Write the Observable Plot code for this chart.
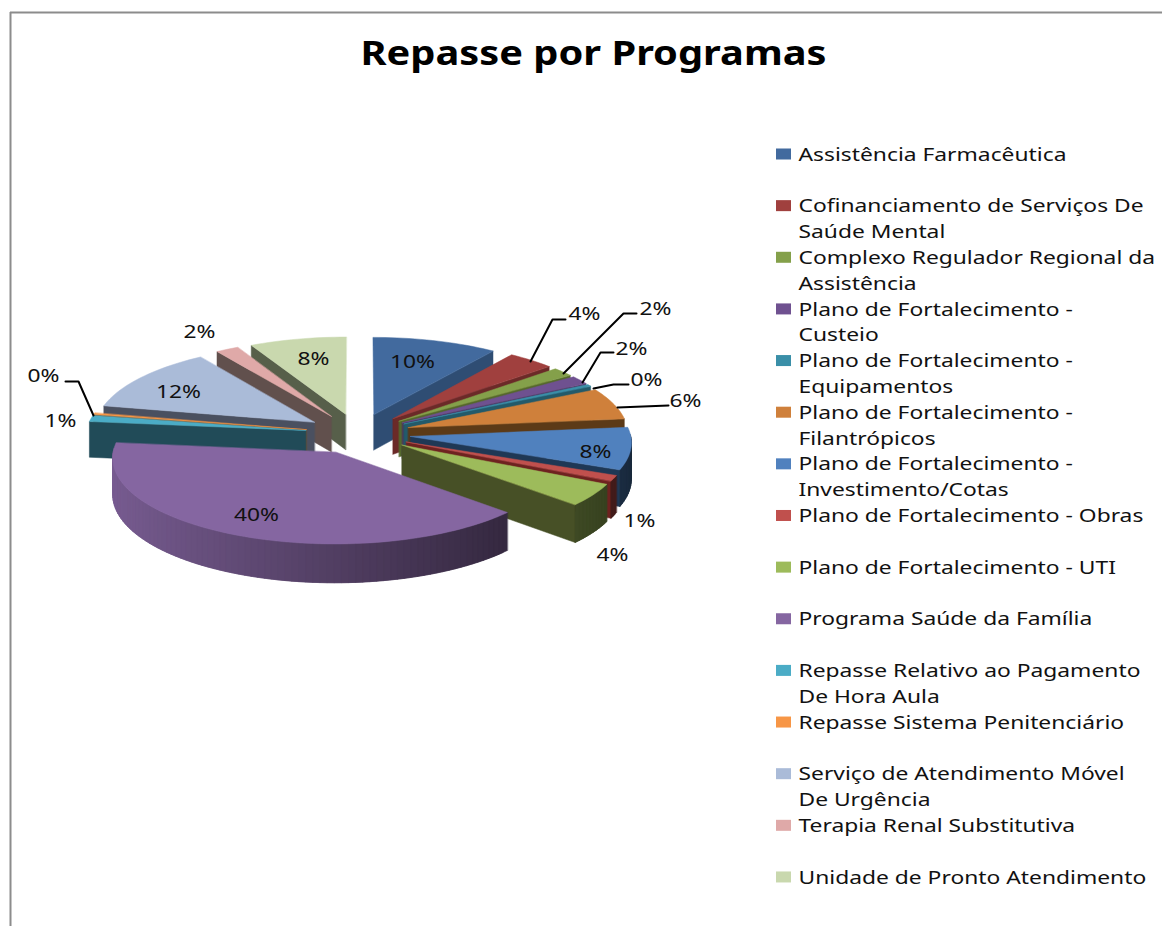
<!DOCTYPE html>
<html lang="pt">
<head>
<meta charset="utf-8">
<title>Repasse por Programas</title>
<style>html,body{margin:0;padding:0;background:#fff;overflow:hidden}svg{display:block}</style>
<script src="https://cdn.jsdelivr.net/npm/d3@7"></script>
<script src="https://cdn.jsdelivr.net/npm/@observablehq/plot@0.6"></script>
</head>
<body>
<div id="chart"></div>
<script>
const titulo = "Repasse por Programas";
const programas = [
  "Assistência Farmacêutica",
  "Cofinanciamento de Serviços De\nSaúde Mental",
  "Complexo Regulador Regional da\nAssistência",
  "Plano de Fortalecimento -\nCusteio",
  "Plano de Fortalecimento -\nEquipamentos",
  "Plano de Fortalecimento -\nFilantrópicos",
  "Plano de Fortalecimento -\nInvestimento/Cotas",
  "Plano de Fortalecimento - Obras",
  "Plano de Fortalecimento - UTI",
  "Programa Saúde da Família",
  "Repasse Relativo ao Pagamento\nDe Hora Aula",
  "Repasse Sistema Penitenciário",
  "Serviço de Atendimento Móvel\nDe Urgência",
  "Terapia Renal Substitutiva",
  "Unidade de Pronto Atendimento"
];
const percentuais = [9.8, 3.7, 1.7, 1.6, 0.4, 6.0, 8, 1.1, 4.3, 39.9, 1.2, 0.3, 12.3, 1.8, 7.6];

const coresTopo = ["#426A9E","#A0403E","#84A04A","#6F5190","#3A8FA8","#CF803B","#5081BE","#C0504D","#9DBB5B","#8566A1","#4BACC6","#F79646","#AABBD8","#DFA9A8","#C9D8AE"];
const coresParede = ["#2F4D73","#6B2A28","#55682C","#4A3560","#235A6A","#5C3A17","#1F3855","#6E2220","#475026","#5A4570","#214B58","#8A5020","#4A5060","#61504D","#575F4A"];

// posição de cada rótulo percentual, nas unidades das escalas x e y
const rotuloX = [412,584,655,631,646,685,595,639,612,256,60,43,178,199,313];
const rotuloY = [361,313,308,348,379,400,451,520,554,514,420,375,391,331,358];
// linhas de chamada
const chamadas = [
  [[530,361],[552,319],[565,319]],
  [[563,373],[623,313],[636,313]],
  [[582,382],[600,352],[613,352]],
  [[593,388],[613,384],[628,384]],
  [[617,407],[668,405]],
  [[93,415],[78,381],[65,381]]
];

// modelo da pizza 3D em perspectiva
const CX = 357.5, CY = 433, A = 220, B = 84, P = 0.06, ALT = 36, EXPL = 0.24;
const projeta = (u, v, h = 0) => {
  const w = 1 + P * v;
  return [CX + A * u / w, CY - B * v / w + h * ALT / w];
};

const pie = d3.pie().sort(null).value(d => d)(percentuais);
const fatias = pie.map((p, i) => {
  const a0 = p.startAngle, a1 = p.endAngle, m = (a0 + a1) / 2;
  const eu = EXPL * Math.sin(m), ev = EXPL * Math.cos(m);
  const n = Math.max(2, Math.ceil((a1 - a0) / 0.03));
  const arco = d3.range(n + 1).map(k => a0 + (a1 - a0) * k / n);
  return {i, a0, a1, m, eu, ev, arco};
}).sort((a, b) => Math.cos(b.m) - Math.cos(a.m));

const poligonos = [];
let id = 0;
const poligono = (cor, pts) => {
  id++;
  pts.forEach(([x, y]) => poligonos.push({id, cor, x, y}));
};
for (const f of fatias) {
  const {i, a0, a1, eu, ev, arco} = f;
  const pt = (a, h) => projeta(eu + Math.sin(a), ev + Math.cos(a), h);
  const ap = h => projeta(eu, ev, h);
  if (Math.sin(a0) < -0.02) poligono(coresParede[i], [ap(0), pt(a0, 0), pt(a0, 1), ap(1)]);
  if (Math.sin(a1) > 0.02) poligono(coresParede[i], [ap(0), pt(a1, 0), pt(a1, 1), ap(1)]);
  for (let k = 0; k < arco.length - 1; k++) {
    const c = (arco[k] + arco[k + 1]) / 2;
    if (Math.cos(c) < 0.03) {
      const t = (Math.sin(c) + 1) / 2;
      const cor = d3.interpolateRgb(coresTopo[i], "#000")(0.1 + 0.58 * t);
      // cada faixa avança até a amostra seguinte e é coberta pela próxima: sem frestas
      const fim = arco[Math.min(k + 2, arco.length - 1)];
      poligono(cor, [pt(arco[k], 0), pt(fim, 0), pt(fim, 1), pt(arco[k], 1)]);
    }
  }
  poligono(coresTopo[i], [ap(0), ...arco.map(a => pt(a, 0))]);
}

const rotulos = percentuais.map((v, i) => ({t: d3.format(".0f")(v) + "%", x: rotuloX[i], y: rotuloY[i]}));
const linhasChamada = chamadas.flatMap((c, j) => c.map(([x, y]) => ({j, x, y})));

// legenda em grade de linhas
const LEG_Y0 = 154, LEG_PASSO = 25.82;
const legendaTexto = [], legendaCaixas = [];
programas.forEach((nome, i) => {
  const linha0 = i * 2;
  nome.split("\n").forEach((t, k) => legendaTexto.push({t, y: LEG_Y0 + (linha0 + k) * LEG_PASSO}));
  const y = LEG_Y0 + linha0 * LEG_PASSO;
  legendaCaixas.push({cor: coresTopo[i], y1: y - 5.5, y2: y + 5.5});
});

const fonte = "Noto Sans";
const chart = Plot.plot({
  width: 1162, height: 926, margin: 0,
  x: {domain: [0, 1162], range: [0, 1162], axis: null},
  y: {domain: [0, 926], range: [0, 926], axis: null},
  color: {type: "identity"},
  style: {background: "#fff", fontFamily: fonte},
  marks: [
    Plot.ruleY([12], {x1: 10, x2: 1162, stroke: "#8c8c8c", strokeWidth: 2}),
    Plot.ruleX([10], {y1: 12, y2: 926, stroke: "#8c8c8c", strokeWidth: 2}),
    Plot.text([titulo], {x: () => 593, y: () => 54, text: d => d, fontSize: 34, fontWeight: "bold", fill: "#000", textAnchor: "middle", fontFamily: fonte, className: "titulo"}),
    Plot.line(poligonos, {x: "x", y: "y", z: "id", fill: "cor", stroke: "cor", strokeWidth: 0.5, curve: "linear-closed"}),
    Plot.line(linhasChamada, {x: "x", y: "y", z: "j", stroke: "#000", strokeWidth: 2, fill: "none"}),
    Plot.text(rotulos, {x: "x", y: "y", text: "t", fontSize: 19, fill: "#111", textAnchor: "middle", fontFamily: fonte, className: "rotulo"}),
    Plot.rect(legendaCaixas, {x1: () => 776, x2: () => 791, y1: "y1", y2: "y2", fill: "cor"}),
    Plot.text(legendaTexto, {x: () => 798, y: "y", text: "t", fontSize: 19, fill: "#111", textAnchor: "start", fontFamily: fonte, className: "legenda"})
  ]
});
document.getElementById("chart").append(chart);

// o original tem o texto esticado na horizontal
const estica = (sel, sx) => chart.querySelectorAll(sel + " text").forEach(t =>
  t.setAttribute("transform", (t.getAttribute("transform") || "") + ` scale(${sx},1)`));
const largura = (sel, texto) => [...chart.querySelectorAll(sel + " text")].find(t => t.textContent === texto).getComputedTextLength();
const sxLeg = 348 / largura(".legenda", "Unidade de Pronto Atendimento");
estica(".legenda", sxLeg);
estica(".rotulo", sxLeg);
estica(".titulo", 466 / largura(".titulo", titulo));
</script>
</body>
</html>
